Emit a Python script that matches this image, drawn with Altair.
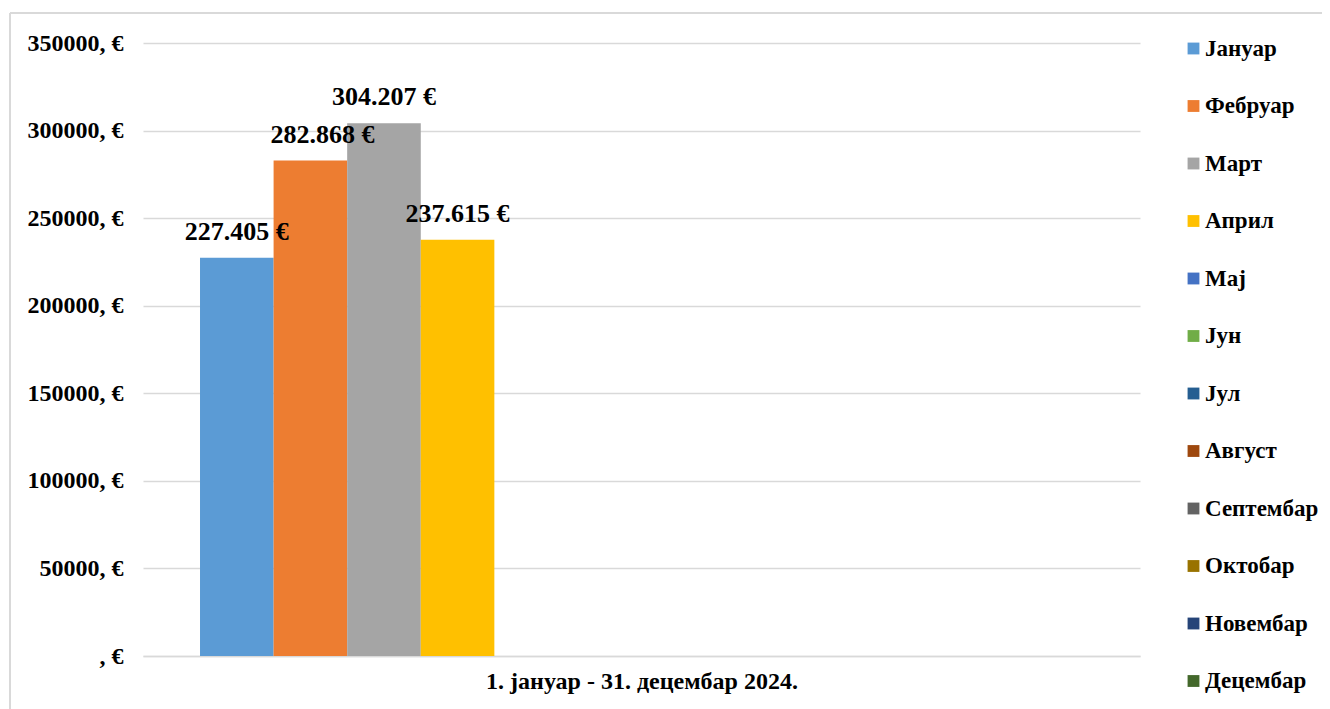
import altair as alt
import pandas as pd

months = ["Јануар", "Фебруар", "Март", "Април", "Мај", "Јун", "Јул",
          "Август", "Септембар", "Октобар", "Новембар", "Децембар"]
values = [227405, 282868, 304207, 237615, None, None, None, None, None, None, None, None]
colors = ["#5B9BD5", "#ED7D31", "#A5A5A5", "#FFC000", "#4472C4", "#70AD47",
          "#255E91", "#9E480E", "#636363", "#997300", "#264478", "#43682B"]
y_ticks = [0, 50000, 100000, 150000, 200000, 250000, 300000, 350000]
period = "1. јануар - 31. децембар 2024."

def fmt(v):
    return None if v is None else f"{v:,}".replace(",", ".") + " €"

df = pd.DataFrame({
    "month": months,
    "value": values,
    "label": [fmt(v) for v in values],
})

FONT = "Liberation Serif, Times New Roman, serif"
W, H = 997, 613
GRID = "#D9D9D9"

xenc = alt.X("month:N", sort=months,
             scale=alt.Scale(domain=months, paddingInner=0, paddingOuter=0.775),
             axis=alt.Axis(labels=False, ticks=False, domainColor=GRID, domainWidth=1.3,
                           title=period, titleFont=FONT, titleFontSize=24,
                           titleFontWeight="bold", titleColor="black", titlePadding=13))
yenc = alt.Y("value:Q", scale=alt.Scale(domain=[0, 350000], nice=False),
             axis=alt.Axis(values=y_ticks, title=None, domain=False, ticks=False,
                           gridColor=GRID, gridWidth=1.3, labelPadding=20,
                           labelFont=FONT, labelFontSize=24, labelFontWeight="bold",
                           labelColor="black",
                           labelExpr="datum.value == 0 ? ', €' : datum.value + ', €'"))

base = alt.Chart(df)

bars = base.mark_bar(size=73.6).encode(
    x=xenc, y=yenc,
    color=alt.Color("month:N", sort=months,
                    scale=alt.Scale(domain=months, range=colors),
                    legend=alt.Legend(title=None, orient="none", legendX=1039, legendY=-6,
                                      symbolType="square", symbolSize=140,
                                      symbolStrokeWidth=0, rowPadding=33.5,
                                      labelFont=FONT, labelFontSize=23,
                                      labelFontWeight="bold", labelColor="black",
                                      labelOffset=0, labelLimit=200)),
)

text_style = dict(baseline="bottom", dy=-13, font=FONT, fontSize=26,
                  fontWeight="bold", color="black")

texts = base.mark_text(**text_style).encode(
    x=alt.X("month:N", sort=months), y="value:Q", text="label:N"
).transform_filter(alt.datum.month != "Фебруар")

text_feb = base.mark_text(dx=12, **text_style).encode(
    x=alt.X("month:N", sort=months), y="value:Q", text="label:N"
).transform_filter(alt.datum.month == "Фебруар")

border_left = alt.Chart(df).mark_rule(color=GRID, strokeWidth=1.3).encode(
    x=alt.value(-133), y=alt.value(-30), y2=alt.value(H + 60))
border_top = alt.Chart(df).mark_rule(color=GRID, strokeWidth=1.3).encode(
    x=alt.value(-133), x2=alt.value(W + 200), y=alt.value(-30))

chart = alt.layer(border_left, border_top, bars, texts, text_feb).properties(
    width=W, height=H,
    autosize=alt.AutoSizeParams(type="none"),
    padding={"left": 135, "top": 35, "right": 182, "bottom": 53},
).configure_view(stroke=None)

chart.save("out.html", embed_options={"renderer": "svg", "actions": False})
